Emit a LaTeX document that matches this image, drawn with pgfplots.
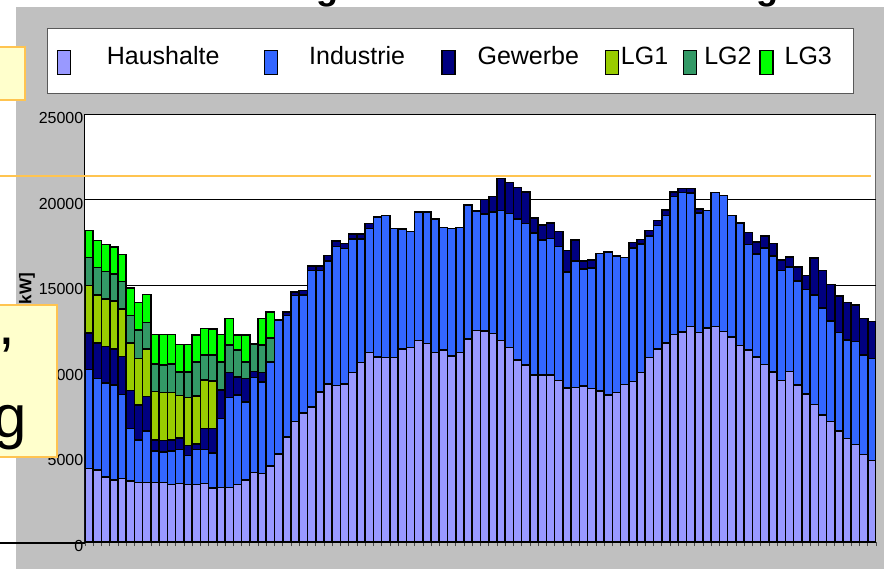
\documentclass[border=0pt]{standalone}
\usepackage{pgfplots}
\pgfplotsset{compat=1.18}
\usepackage{pgfplotstable}
\usepackage{fontspec}
\setmainfont{Liberation Sans}

\definecolor{haus}{RGB}{153,153,255}
\definecolor{ind}{RGB}{51,102,255}
\definecolor{gew}{RGB}{0,0,128}
\definecolor{lgA}{RGB}{153,204,0}
\definecolor{lgB}{RGB}{51,153,102}
\definecolor{lgC}{RGB}{0,255,0}
\definecolor{bggray}{RGB}{192,192,192}
\definecolor{orangeline}{RGB}{255,196,80}
\definecolor{boxfill}{RGB}{255,255,204}

\pgfplotstableread{
x H I G A B C
0 4300 5780 2140 2770 1620 1580
1 4200 5340 2100 2780 1620 1580
2 3800 5490 2140 2770 1600 1580
3 3620 5550 2100 2800 1580 1580
4 3720 4900 2220 2770 1600 1580
5 3560 3060 2220 2780 1620 1580
6 3470 2490 2040 2730 1650 1620
7 3470 3020 2000 2780 1560 1620
8 3470 1850 640 2820 1620 1710
9 3470 1790 660 2820 1600 1770
10 3350 1970 640 2780 1660 1710
11 3410 2000 680 2470 1380 1600
12 3350 1710 580 2800 1500 1600
13 3370 2040 310 2800 2000 1580
14 3410 2000 1230 2820 1460 1540
15 3170 2040 1420 2780 1500 1540
16 3190 4030 1660 0 1650 1580
17 3190 5240 1460 0 1620 1540
18 3370 5200 1070 0 1560 900
19 3620 4570 1370 0 970 1560
20 4050 5570 330 0 1600 0
21 4010 5320 580 0 1600 1540
22 4440 6090 0 0 1400 1520
23 5150 7800 0 0 0 0
24 6150 7070 230 0 0 0
25 7030 7360 230 0 0 0
26 7520 6910 250 0 0 0
27 7870 7980 270 0 0 0
28 8760 7090 270 0 0 0
29 9230 7200 310 0 0 0
30 9150 8100 330 0 0 0
31 9230 7920 290 0 0 0
32 9910 7790 290 0 0 0
33 10480 7220 290 0 0 0
34 11060 7260 290 0 0 0
35 10810 8180 0 0 0 0
36 10770 8290 0 0 0 0
37 10770 7550 0 0 0 0
38 11270 7010 0 0 0 0
39 11350 6780 0 0 0 0
40 11760 7500 0 0 0 0
41 11590 7670 0 0 0 0
42 11080 7770 0 0 0 0
43 11220 7160 0 0 0 0
44 10880 7440 0 0 0 0
45 11080 7280 0 0 0 0
46 11860 7810 0 0 0 0
47 12360 6970 0 0 0 0
48 12340 6810 860 0 0 0
49 12170 7090 910 0 0 0
50 11780 7590 1870 0 0 0
51 11350 7830 1810 0 0 0
52 10630 8220 1850 0 0 0
53 10340 8270 1830 0 0 0
54 9750 8300 860 0 0 0
55 9750 7900 860 0 0 0
56 9770 7960 920 0 0 0
57 9440 7810 880 0 0 0
58 9000 6770 1250 0 0 0
59 9030 7380 1230 0 0 0
60 9110 6850 450 0 0 0
61 8960 7050 450 0 0 0
62 8820 8040 0 0 0 0
63 8570 8370 0 0 0 0
64 8740 7960 0 0 0 0
65 9190 7420 0 0 0 0
66 9370 7790 330 0 0 0
67 9910 7480 290 0 0 0
68 10770 7120 310 0 0 0
69 11290 7200 290 0 0 0
70 11620 7460 310 0 0 0
71 12130 8040 290 0 0 0
72 12250 8160 250 0 0 0
73 12580 7790 290 0 0 0
74 12230 6970 250 0 0 0
75 12500 6870 0 0 0 0
76 12580 7830 0 0 0 0
77 12300 7950 0 0 0 0
78 11990 7070 0 0 0 0
79 11470 7180 0 0 0 0
80 11200 6170 720 0 0 0
81 10810 6000 720 0 0 0
82 10360 6810 720 0 0 0
83 9930 6780 720 0 0 0
84 9440 6410 620 0 0 0
85 9970 6110 580 0 0 0
86 9170 6080 800 0 0 0
87 8630 6110 820 0 0 0
88 8020 6420 2160 0 0 0
89 7420 6250 2180 0 0 0
90 7030 5880 2140 0 0 0
91 6500 5740 2120 0 0 0
92 6040 5760 2180 0 0 0
93 5690 6030 2140 0 0 0
94 5100 5820 2140 0 0 0
95 4750 5980 2140 0 0 0
}\loaddata

\pgfplotsset{
  legbar/.style={
    legend image code/.code={%
      \path (0pt,-31.5pt) (0pt,31.5pt);
      \draw[##1,line width=1.5pt,draw=black] (1pt,-13.5pt) rectangle (14pt,10.5pt);
    }
  }
}

\begin{document}
\begin{tikzpicture}[x=1pt,y=1pt]
\useasboundingbox (0,0) rectangle (884,-569);
\clip (0,0) rectangle (884,-569);
\fill[bggray] (16,-7) rectangle (884,-569);
\begin{axis}[
  at={(85pt,-542pt)}, anchor=south west,
  scale only axis, width=791pt, height=428pt,
  ybar stacked, bar width=8.24pt,
  xmin=-0.5, xmax=95.5, ymin=0, ymax=25000,
  axis background/.style={fill=white, draw=gray!80!black, line width=1pt},
  axis x line*=bottom, axis y line*=left,
  axis line style={black, line width=1pt},
  xtick={-0.5,0.5,...,95.5}, xticklabels={},
  x tick style={black!70, line width=0.6pt},
  tick align=outside, major tick length=4pt,
  ytick={0,5000,10000,15000,20000,25000},
  y tick style={draw=none},
  scaled y ticks=false,
  yticklabel style={font=\fontsize{16}{18}\selectfont, inner xsep=0pt, xshift=2.5pt, yshift=-4pt},
  /pgf/number format/assume math mode=true,
  /pgf/number format/1000 sep={},
  ymajorgrids, grid style={black, line width=0.8pt},
  ylabel={{[kW]}},
  ylabel style={at={(axis description cs:-0.0733,0.585)}, anchor=center, font=\bfseries\fontsize{17}{20}\selectfont},
  every axis plot/.append style={draw=black, line width=1.6pt, legbar},
  legend columns=6,
  legend style={at={(-0.04804,1.20093)}, anchor=north west, draw=gray!70!black, line width=1pt, fill=white,
    inner xsep=8pt, inner ysep=0pt, column sep=0pt,
    font=\fontsize{25}{30}\selectfont,
    nodes={inner sep=0pt, text depth=11pt}, cells={anchor=west}},
]
\addplot[fill=haus] table[x=x,y=H]{\loaddata};
\addlegendentry{\makebox[191.8pt][l]{\hspace{35.8pt}Haushalte}}
\addplot[fill=ind] table[x=x,y=I]{\loaddata};
\addlegendentry{\makebox[161.8pt][l]{\hspace{30.8pt}Industrie}}
\addplot[fill=gew] table[x=x,y=G]{\loaddata};
\addlegendentry{\makebox[147.8pt][l]{\hspace{21.8pt}Gewerbe}}
\addplot[fill=lgA] table[x=x,y=A]{\loaddata};
\addlegendentry{\makebox[62.8pt][l]{\hspace{1.8pt}LG1}}
\addplot[fill=lgB] table[x=x,y=B]{\loaddata};
\addlegendentry{\makebox[60.8pt][l]{\hspace{6.8pt}LG2}}
\addplot[fill=lgC] table[x=x,y=C]{\loaddata};
\addlegendentry{\makebox[71.8pt][l]{\hspace{10.8pt}LG3}}
\end{axis}
% overlays
\draw[orangeline, line width=2pt] (0,-176) -- (871,-176);
\draw[black, line width=2pt] (0,-543) -- (85,-543);
\draw[orangeline, line width=2pt, fill=boxfill] (-5,-47) rectangle (25,-100);
\draw[orangeline, line width=2pt, fill=boxfill] (-5,-305) rectangle (57,-457);
\begin{scope}
\clip (0,-306) rectangle (56,-456);
\node[anchor=base west, inner sep=0pt, font=\fontsize{60}{60}\selectfont] at (-2,-345) {,};
\node[anchor=base west, inner sep=0pt, font=\fontsize{60}{60}\selectfont] at (-7,-437) {g};
\end{scope}
\node[anchor=base, inner sep=0pt, font=\bfseries\fontsize{36}{40}\selectfont] at (327,0) {g};
\node[anchor=base, inner sep=0pt, font=\bfseries\fontsize{36}{40}\selectfont] at (767,0) {g};
\end{tikzpicture}
\end{document}
